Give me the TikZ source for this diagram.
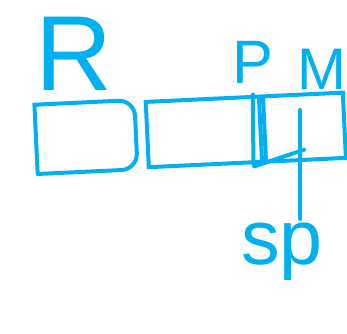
\documentclass[tikz,border=0pt]{standalone}
\usepackage{fontspec}
\setmainfont{Liberation Sans}
\usetikzlibrary{positioning,calc}
\definecolor{sketchblue}{RGB}{0,176,240}
\tikzset{
    cell/.style={
        rectangle,
        draw=sketchblue,
        line width=3pt,
        rotate=2.7,
        minimum height=49pt,
        inner sep=0pt
    },
    tag/.style={
        text=sketchblue,
        inner sep=0pt
    },
    pen/.style={
        draw=sketchblue,
        line width=3pt,
        line cap=round
    }
}

\begin{document}
\begin{tikzpicture}[x=0.75pt,y=-0.75pt]
\useasboundingbox (0,0) rectangle (347,333);
% cells
\node[cell, minimum width=72pt, draw=none] (rcell) at (86,137) {};
\draw[pen] (rcell.south west) -- (rcell.north west) [rounded corners=12pt] -- (rcell.north east) -- (rcell.south east) [sharp corners] -- (rcell.south west);
\node[cell, minimum width=85pt, right=7pt of rcell] (midcell) {};
\node[cell, minimum width=60pt, anchor=west] (pmcell) at (midcell.east) {};

% extra strokes
\draw[pen] ([xshift=-6pt]midcell.north east) -- ([xshift=-8pt]midcell.south east);
\draw[pen] ($(pmcell.south west)+(-7.5pt,-2pt)$) -- ($(pmcell.south)+(-1.5pt,9pt)$);

% labels
\node[tag, font=\fontsize{80}{80}\selectfont] (rlabel) at (74,54) {R};
\node[tag, font=\fontsize{46}{46}\selectfont] (plabel) at (253,62) {P};
\node[tag, font=\fontsize{44}{44}\selectfont] (mlabel) at (322,69) {M};
\node[tag, font=\fontsize{58}{58}\selectfont] (splabel) at (282,252) {sp};

% pointer
\coordinate (spin) at (300,110);
\draw[pen] (spin) -- ([yshift=3pt]spin |- splabel.north);
\end{tikzpicture}
\end{document}
